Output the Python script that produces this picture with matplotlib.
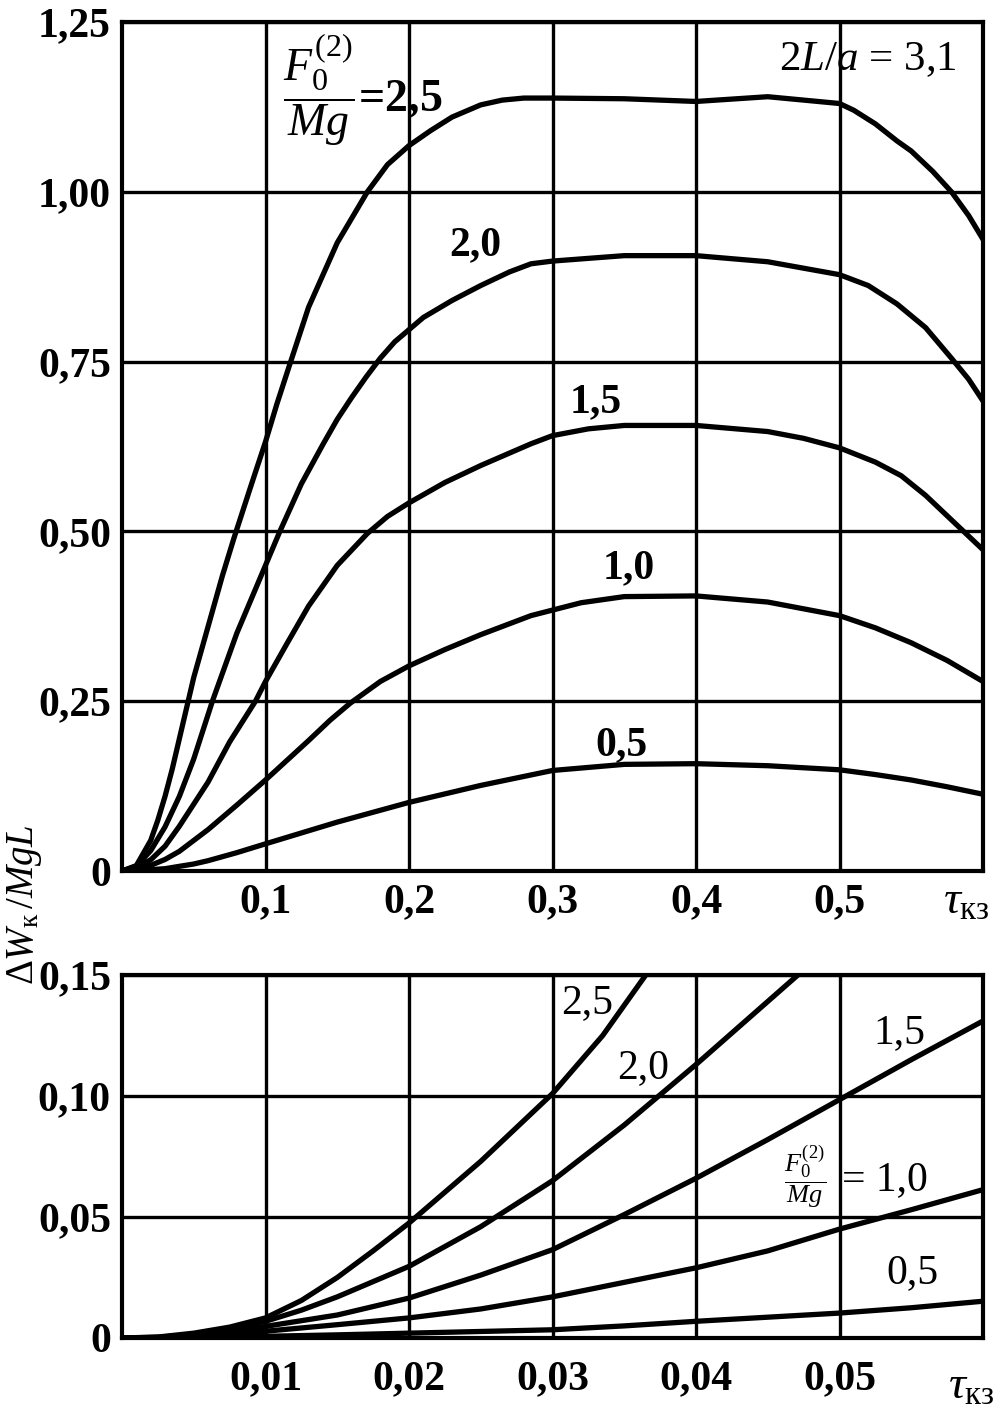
import numpy as np
import matplotlib.pyplot as plt

plt.rcParams['font.family'] = ['Liberation Serif', 'DejaVu Serif']
plt.rcParams['mathtext.fontset'] = 'custom'
plt.rcParams['mathtext.rm'] = 'Liberation Serif'
plt.rcParams['mathtext.it'] = 'Liberation Serif:italic'
plt.rcParams['mathtext.bf'] = 'Liberation Serif:bold'

# ---- upper chart: dW/MgL vs tau, 2L/a = 3.1 ----
x25 = [0, 0.01, 0.02, 0.025, 0.03, 0.035, 0.04, 0.045, 0.05, 0.06, 0.07, 0.078, 0.09, 0.1,
       0.108, 0.116, 0.13, 0.15, 0.171, 0.185, 0.2, 0.215, 0.23, 0.25, 0.265, 0.28, 0.3,
       0.35, 0.4, 0.45, 0.5, 0.51, 0.525, 0.54, 0.55, 0.565, 0.578, 0.59, 0.6]
y25 = [0, 0.008, 0.045, 0.075, 0.11, 0.15, 0.195, 0.24, 0.285, 0.36, 0.435, 0.49, 0.568, 0.632,
       0.688, 0.74, 0.83, 0.925, 1.0, 1.04, 1.068, 1.09, 1.11, 1.128, 1.135, 1.138, 1.138,
       1.137, 1.133, 1.14, 1.13, 1.12, 1.10, 1.075, 1.06, 1.03, 1.0, 0.965, 0.93]
x20 = [0, 0.01, 0.02, 0.03, 0.04, 0.05, 0.063, 0.08, 0.1, 0.11, 0.125, 0.14, 0.15, 0.16,
       0.17, 0.18, 0.19, 0.2, 0.21, 0.23, 0.25, 0.27, 0.285, 0.3, 0.35, 0.4, 0.45, 0.5, 0.52,
       0.54, 0.56, 0.578, 0.59, 0.6]
y20 = [0, 0.007, 0.03, 0.065, 0.11, 0.165, 0.25, 0.35, 0.45, 0.50, 0.57, 0.628, 0.665, 0.697,
       0.727, 0.755, 0.779, 0.797, 0.815, 0.84, 0.862, 0.882, 0.894, 0.898, 0.906, 0.906, 0.897,
       0.878, 0.862, 0.835, 0.80, 0.755, 0.724, 0.692]
x15 = [0, 0.01, 0.02, 0.03, 0.04, 0.05, 0.06, 0.075, 0.093, 0.1, 0.115, 0.13, 0.15, 0.171,
       0.185, 0.2, 0.225, 0.25, 0.285, 0.3, 0.325, 0.35, 0.4, 0.45, 0.475, 0.5, 0.525, 0.543,
       0.56, 0.578, 0.59, 0.6]
y15 = [0, 0.005, 0.0165, 0.0365, 0.066, 0.0985, 0.131, 0.19, 0.25, 0.279, 0.335, 0.39, 0.45,
       0.497, 0.522, 0.542, 0.572, 0.597, 0.629, 0.641, 0.651, 0.656, 0.656, 0.647, 0.637, 0.623,
       0.602, 0.582, 0.553, 0.517, 0.493, 0.473]
x10 = [0, 0.01, 0.02, 0.03, 0.04, 0.05, 0.06, 0.08, 0.1, 0.115, 0.13, 0.145, 0.159, 0.18,
       0.2, 0.225, 0.25, 0.285, 0.32, 0.35, 0.4, 0.45, 0.5, 0.525, 0.55, 0.575, 0.6]
y10 = [0, 0.0028, 0.0083, 0.017, 0.029, 0.045, 0.061, 0.097, 0.134, 0.163, 0.192, 0.222, 0.247,
       0.279, 0.302, 0.326, 0.348, 0.376, 0.395, 0.404, 0.405, 0.396, 0.376, 0.358, 0.336,
       0.31, 0.279]
x05 = [0, 0.01, 0.02, 0.03, 0.04, 0.05, 0.06, 0.08, 0.1, 0.15, 0.2, 0.25, 0.3, 0.35, 0.4,
       0.45, 0.5, 0.525, 0.55, 0.575, 0.6]
y05 = [0, 0.0007, 0.002, 0.0034, 0.0069, 0.0103, 0.0152, 0.027, 0.04, 0.072, 0.101, 0.126,
       0.148, 0.157, 0.158, 0.155, 0.149, 0.142, 0.134, 0.124, 0.113]

top_xticks = [0.1, 0.2, 0.3, 0.4, 0.5]
top_xlabels = ['0,1', '0,2', '0,3', '0,4', '0,5']
top_yticks = [0, 0.25, 0.5, 0.75, 1.0, 1.25]
top_ylabels = ['0', '0,25', '0,50', '0,75', '1,00', '1,25']

# ---- lower chart: initial part, tau up to 0.06 ----
xb25 = [0, 0.0025, 0.005, 0.0075, 0.01, 0.0125, 0.015, 0.0175, 0.02, 0.025, 0.03, 0.0335, 0.0365]
yb25 = [0, 0.0004, 0.002, 0.0045, 0.0083, 0.0155, 0.025, 0.036, 0.0475, 0.073, 0.101, 0.125, 0.15]
xb20 = [0, 0.0025, 0.005, 0.0075, 0.01, 0.0125, 0.015, 0.02, 0.025, 0.03, 0.035, 0.04, 0.0471]
yb20 = [0, 0.0003, 0.0015, 0.0038, 0.0069, 0.0115, 0.017, 0.0296, 0.046, 0.065, 0.088, 0.113, 0.15]
xb = [0, 0.0025, 0.005, 0.0075, 0.01, 0.015, 0.02, 0.025, 0.03, 0.035, 0.04, 0.045, 0.05, 0.055, 0.06]
yb15 = [0, 0.0002, 0.001, 0.0026, 0.0048, 0.0095, 0.0165, 0.026, 0.0365, 0.051, 0.066, 0.082, 0.0985, 0.115, 0.131]
yb10 = [0, 0.0001, 0.0006, 0.0015, 0.0028, 0.0055, 0.0083, 0.012, 0.017, 0.023, 0.029, 0.036, 0.045, 0.053, 0.0613]
yb05 = [0, 0.0, 0.0002, 0.0004, 0.0007, 0.0013, 0.002, 0.0027, 0.0034, 0.005, 0.0069, 0.0086, 0.0103, 0.0125, 0.0152]

bot_xticks = [0.01, 0.02, 0.03, 0.04, 0.05]
bot_xlabels = ['0,01', '0,02', '0,03', '0,04', '0,05']
bot_yticks = [0, 0.05, 0.10, 0.15]
bot_ylabels = ['0', '0,05', '0,10', '0,15']

W, H = 1005, 1425
fig = plt.figure(figsize=(W / 100, H / 100), dpi=100)
ax1 = fig.add_axes([122 / W, 1 - 871 / H, 861 / W, 849 / H])
ax2 = fig.add_axes([122 / W, 1 - 1338 / H, 861 / W, 363 / H])

lw = 3.8
for ax in (ax1, ax2):
    ax.grid(True, color='black', linewidth=2.4)
    ax.set_axisbelow(True)
    for s in ax.spines.values():
        s.set_linewidth(3)
    ax.tick_params(length=0, labelsize=30)

for xs, ys in [(x25, y25), (x20, y20), (x15, y15), (x10, y10), (x05, y05)]:
    ax1.plot(xs, ys, color='black', linewidth=lw, solid_joinstyle='round')
ax1.set_xlim(0, 0.6)
ax1.set_ylim(0, 1.25)
ax1.set_xticks(top_xticks)
ax1.set_xticklabels(top_xlabels, fontweight='bold')
ax1.set_yticks(top_yticks)
ax1.set_yticklabels(top_ylabels, fontweight='bold')
ax1.tick_params(axis='x', pad=9)
ax1.tick_params(axis='y', pad=8)

ax1.text(0.1122, 1.150, r'$\dfrac{F_0^{(2)}}{Mg}$=2,5', fontsize=33, fontweight='bold',
         ha='left', va='center')
ax1.text(0.246, 0.922, '2,0', fontsize=30, fontweight='bold', ha='center', va='center')
ax1.text(0.330, 0.690, '1,5', fontsize=30, fontweight='bold', ha='center', va='center')
ax1.text(0.353, 0.446, '1,0', fontsize=30, fontweight='bold', ha='center', va='center')
ax1.text(0.348, 0.185, '0,5', fontsize=30, fontweight='bold', ha='center', va='center')
ax1.text(0.582, 1.194, r'$2L/a$ = 3,1', fontsize=31, ha='right', va='center')

for xs, ys in [(xb25, yb25), (xb20, yb20), (xb, yb15), (xb, yb10), (xb, yb05)]:
    ax2.plot(xs, ys, color='black', linewidth=lw, solid_joinstyle='round')
ax2.set_xlim(0, 0.06)
ax2.set_ylim(0, 0.15)
ax2.set_xticks(bot_xticks)
ax2.set_xticklabels(bot_xlabels, fontweight='bold')
ax2.set_yticks(bot_yticks)
ax2.set_yticklabels(bot_ylabels, fontweight='bold')
ax2.tick_params(axis='x', pad=16)
ax2.tick_params(axis='y', pad=8)

ax2.text(0.0324, 0.1384, '2,5', fontsize=30, ha='center', va='center')
ax2.text(0.0363, 0.1118, '2,0', fontsize=30, ha='center', va='center')
ax2.text(0.0542, 0.1262, '1,5', fontsize=30, ha='center', va='center')
ax2.text(0.0551, 0.0271, '0,5', fontsize=30, ha='center', va='center')
ax2.text(0.0476, 0.0665, r'$\dfrac{F_0^{(2)}}{Mg}$', fontsize=19, ha='center', va='center')
ax2.text(0.0502, 0.0653, '= 1,0', fontsize=30, ha='left', va='center')

# axis titles
fig.text(943 / W, 1 - 902 / H, r'$\tau_{\mathrm{кз}}$', fontsize=34, ha='left', va='center')
fig.text(948 / W, 1 - 1387 / H, r'$\tau_{\mathrm{кз}}$', fontsize=34, ha='left', va='center')
fig.text(24 / W, 1 - 905 / H, r'$\Delta W_{\mathrm{к}}\,/MgL$', fontsize=28, rotation=90,
         ha='center', va='center')

fig.savefig('out.png', dpi=100, facecolor='white')
